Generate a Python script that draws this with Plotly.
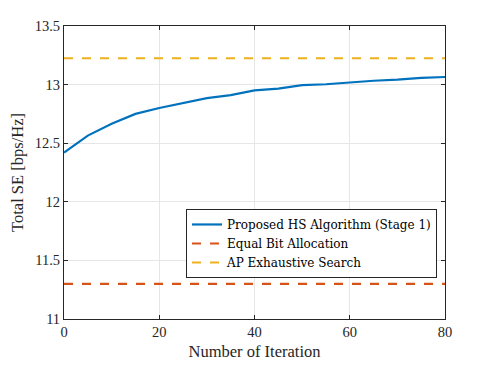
import plotly.graph_objects as go

# ── Data ────────────────────────────────────────────────────────────────
iterations = [0, 5, 10, 15, 20, 25, 30, 35, 40, 45, 50, 55, 60, 65, 70, 75, 80]
hs_se = [12.42, 12.565, 12.665, 12.75, 12.80, 12.845, 12.885, 12.91, 12.95,
         12.965, 12.995, 13.003, 13.02, 13.033, 13.042, 13.058, 13.065]
equal_bit_se = 11.30
exhaustive_se = 13.225
x_range = [0, 80]

COLORS = {"blue": "#0072BD", "red": "#D95319", "yellow": "#EDB120"}
FONT = "Liberation Serif, DejaVu Serif, serif"
LEGEND_FONT = "DejaVu Serif, serif"

fig = go.Figure()
fig.add_trace(go.Scatter(
    x=iterations, y=hs_se, mode="lines",
    line=dict(color=COLORS["blue"], width=2.2),
    name="Proposed HS Algorithm (Stage 1)",
))
fig.add_trace(go.Scatter(
    x=x_range, y=[equal_bit_se] * 2, mode="lines",
    line=dict(color=COLORS["red"], width=2.2, dash="dash"),
    name="Equal Bit Allocation",
))
fig.add_trace(go.Scatter(
    x=x_range, y=[exhaustive_se] * 2, mode="lines",
    line=dict(color=COLORS["yellow"], width=2.2, dash="dash"),
    name="AP Exhaustive Search",
))

axis_common = dict(
    showline=True, linecolor="#262626", linewidth=1, mirror="ticks",
    ticks="inside", ticklen=4, tickcolor="#262626",
    showgrid=True, gridcolor="#E6E6E6", zeroline=False, automargin=False,
    tickfont=dict(family=FONT, size=14.5, color="#262626"),
)

# page body has an 8px default margin, so margins are shifted to compensate
fig.update_layout(
    width=491, height=368,
    paper_bgcolor="white", plot_bgcolor="white",
    margin=dict(l=56, r=54, t=18, b=57),
    font=dict(family=FONT, color="#262626"),
    showlegend=True,
    legend=dict(
        x=0.979, y=0.14, xanchor="right", yanchor="bottom",
        bgcolor="white", bordercolor="#262626", borderwidth=1,
        font=dict(family=LEGEND_FONT, size=12, color="#000000"),
        tracegroupgap=0, itemwidth=30,
    ),
)
fig.update_xaxes(
    range=x_range, tickvals=[0, 20, 40, 60, 80],
    title=dict(text="Number of Iteration", font=dict(family=FONT, size=16.5), standoff=6),
    **axis_common,
)
fig.update_yaxes(
    range=[11, 13.5], tickvals=[11, 11.5, 12, 12.5, 13, 13.5],
    ticktext=["11", "11.5", "12", "12.5", "13", "13.5"],
    title=dict(text="Total SE [bps/Hz]", font=dict(family=FONT, size=16.5), standoff=8),
    **axis_common,
)

fig.write_html("out.html")
